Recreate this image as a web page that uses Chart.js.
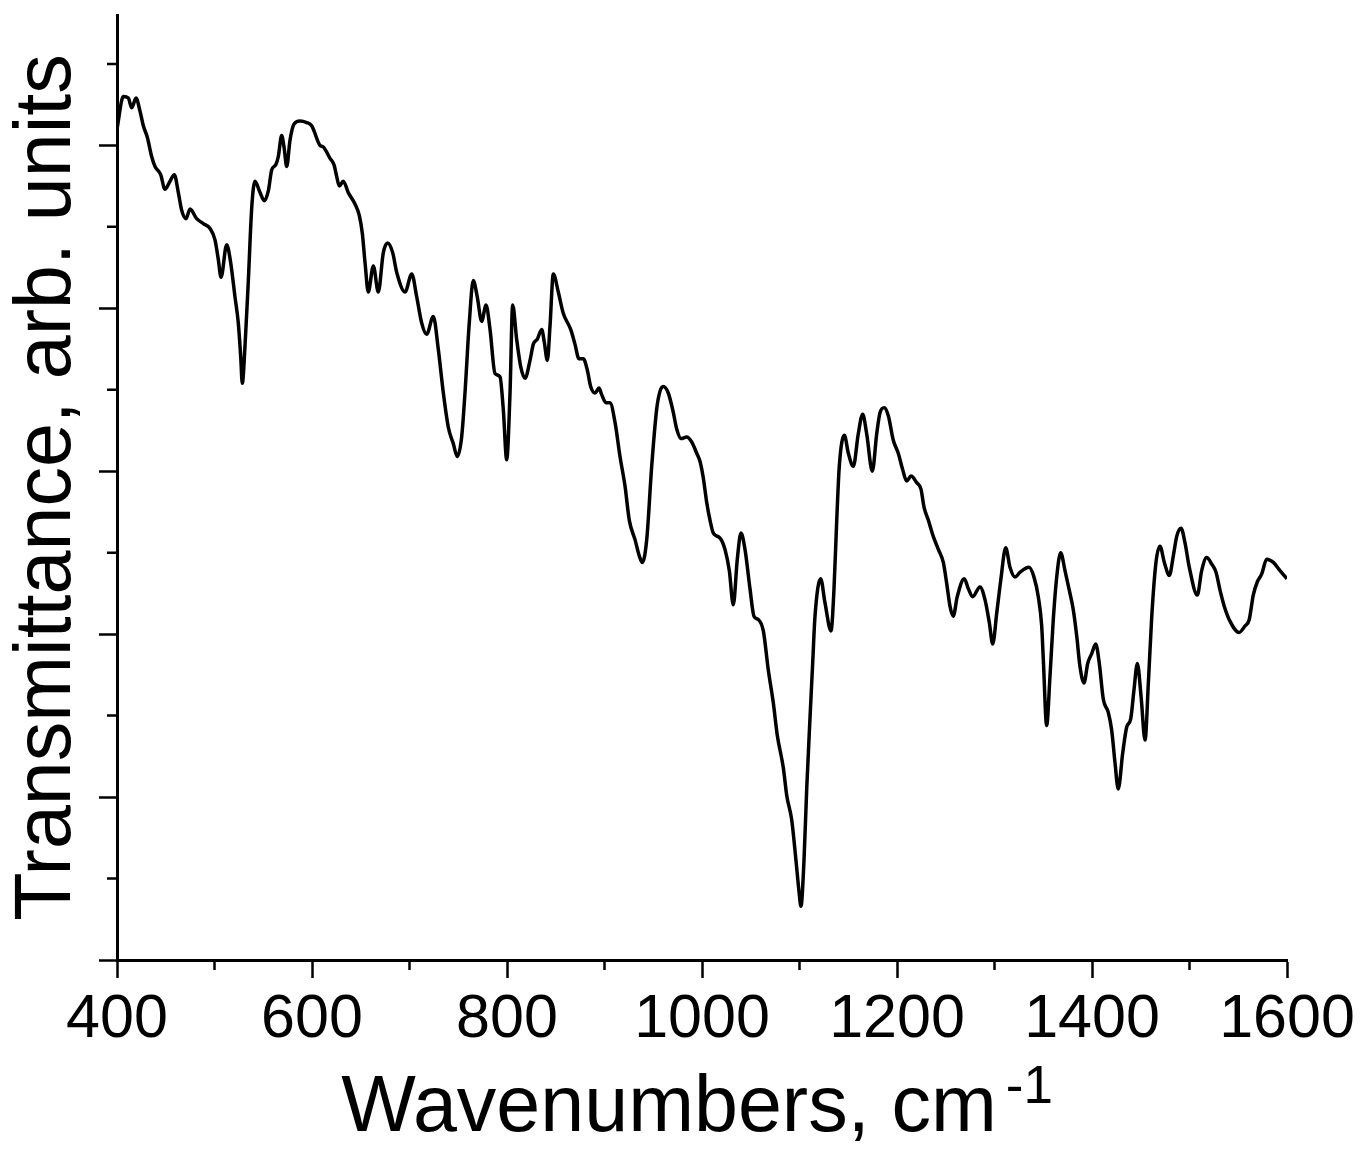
<!DOCTYPE html>
<html>
<head>
<meta charset="utf-8">
<script src="https://cdn.jsdelivr.net/npm/chart.js@4.4.1/dist/chart.umd.min.js"></script>
<style>
html,body{margin:0;padding:0;background:#fff;}
#wrap{width:1362px;height:1150px;}
</style>
</head>
<body>
<div id="wrap"><canvas id="c" width="1362" height="1150"></canvas></div>
<script>
const wavenumbers = [
400, 406.5, 411.6, 415.1, 419.5, 423.6, 427.0, 431.1, 435.6, 439.0, 444.8, 449.2, 454.4, 458.8, 462.9, 466.4, 470.8, 474.9, 481.7, 488.5,
495.4, 500.5, 503.9, 506.7, 512.5, 516.6, 521.0, 524.4, 526.9, 528.5, 531.3, 534.7, 538.2, 541.5, 546.7, 551.1, 555.2, 558.7, 562.8, 565.4,
568.9, 571.3, 574.1, 577.4, 581.5, 587.7, 594.6, 599.7, 608.2,
611.6, 618.5, 622.6, 625.3, 628.0, 632.1, 637.2, 644.1, 648.5, 651.6, 654.4, 657.7, 662.9, 668.0, 673.1, 677.6, 682.8, 686.9, 695.4, 702.3,
707.4, 712.5, 717.6, 724.4, 729.5, 734.7, 739.8, 744.9, 749.0, 753.5, 756.9, 761.3, 765.4, 769.5, 774.0, 778.5, 782.6, 787.7, 792.8, 796.2,
799.7, 803.1, 805.8, 809.9, 814.1, 818.5, 823.6, 827.0, 831.1, 835.6, 838.3, 841.4, 844.1, 847.5, 852.6, 857.7, 865.3, 869.7, 873.8, 878.3,
882.4, 885.8, 890.3, 894.4, 897.1, 901.5, 905.6, 910.8, 915.9, 921.0, 925.4, 931.3, 935.7, 938.8, 943.3, 948.4, 953.5, 956.9, 960.3, 965.4,
970.6, 974.0, 978.5, 984.3, 989.4, 994.6, 998.0,
1001.3, 1004.8, 1008.2, 1011.6, 1018.5, 1023.6, 1028.0, 1032.1, 1036.2, 1040.0, 1044.1, 1049.2, 1053.3, 1057.7, 1062.9, 1068.0, 1073.1, 1077.2, 1083.4, 1086.9,
1092.0, 1096.4, 1099.5, 1101.5, 1104.6, 1107.4, 1110.8, 1113.5, 1115.9, 1121.7, 1126.2, 1132.3, 1135.4, 1138.2, 1140.8, 1146.0, 1150.1, 1155.2, 1160.3, 1164.8,
1168.9, 1174.7, 1179.2, 1182.6, 1187.0, 1191.1, 1196.2, 1201.3, 1205.8, 1209.9, 1214.4, 1220.2, 1224.6, 1227.7, 1232.1, 1237.2, 1242.4, 1247.5, 1251.0, 1254.4,
1257.7, 1261.8, 1269.0, 1273.1, 1277.6, 1285.1, 1290.3, 1294.7, 1298.2, 1302.3, 1306.4, 1311.5, 1315.9, 1321.0, 1326.2, 1335.4, 1340.5, 1344.9, 1348.4, 1350.1,
1353.5, 1356.9, 1360.3, 1363.8, 1367.9, 1372.3, 1376.7, 1380.8, 1384.3, 1387.7, 1391.8, 1395.6, 1399.7, 1403.8, 1407.5, 1411.6, 1416.7, 1420.2, 1423.6, 1426.9,
1431.5, 1435.6, 1439.7, 1443.1, 1446.5, 1450.3, 1454.4, 1457.8, 1461.3, 1465.6, 1469.7, 1474.2, 1479.3, 1483.4, 1486.9, 1491.3, 1495.4, 1499.8, 1508.0, 1512.5,
1517.6, 1522.8, 1527.2, 1531.3, 1535.7, 1541.5, 1550.8, 1556.9, 1561.3, 1565.4, 1569.5, 1574.1, 1579.2, 1586.0, 1592.8, 1600
];
const transmittance = [
5.10, 5.30, 5.29, 5.23, 5.29, 5.21, 5.12, 5.05, 4.93, 4.87, 4.82, 4.73, 4.78, 4.82, 4.71, 4.60, 4.55, 4.61, 4.55, 4.52,
4.49, 4.42, 4.30, 4.19, 4.39, 4.28, 4.07, 3.91, 3.70, 3.54, 3.77, 4.17, 4.62, 4.78, 4.71, 4.66, 4.72, 4.85, 4.88, 4.93,
5.06, 4.99, 4.87, 5.03, 5.13, 5.15, 5.14, 5.12, 5.00,
4.99, 4.92, 4.88, 4.81, 4.75, 4.78, 4.71, 4.64, 4.57, 4.46, 4.28, 4.10, 4.26, 4.10, 4.34, 4.40, 4.34, 4.22, 4.10, 4.21,
4.07, 3.91, 3.84, 3.95, 3.75, 3.48, 3.27, 3.17, 3.09, 3.21, 3.48, 3.91, 4.17, 4.07, 3.92, 4.02, 3.87, 3.60, 3.58, 3.38,
3.07, 3.48, 4.02, 3.81, 3.64, 3.57, 3.68, 3.78, 3.81, 3.87, 3.79, 3.68, 3.89, 4.21, 4.10, 3.97, 3.87, 3.78, 3.69, 3.69,
3.62, 3.52, 3.48, 3.51, 3.47, 3.42, 3.42, 3.30, 3.09, 2.91, 2.70, 2.58, 2.48, 2.44, 2.58, 3.03, 3.38, 3.49, 3.52, 3.48,
3.36, 3.26, 3.20, 3.21, 3.18, 3.11, 3.06,
2.96, 2.81, 2.70, 2.62, 2.59, 2.52, 2.39, 2.18, 2.46, 2.62, 2.52, 2.28, 2.11, 2.09, 2.02, 1.78, 1.58, 1.38, 1.18, 1.01,
0.86, 0.61, 0.42, 0.33, 0.61, 1.05, 1.49, 1.82, 2.11, 2.34, 2.19, 2.02, 2.28, 2.70, 3.03, 3.22, 3.11, 3.03, 3.23, 3.35,
3.23, 3.00, 3.23, 3.36, 3.39, 3.34, 3.19, 3.11, 3.01, 2.94, 2.97, 2.93, 2.89, 2.78, 2.70, 2.60, 2.52, 2.44, 2.31, 2.17,
2.11, 2.23, 2.34, 2.28, 2.23, 2.29, 2.21, 2.07, 1.94, 2.13, 2.33, 2.53, 2.41, 2.35, 2.38, 2.41, 2.35, 2.23, 2.05, 1.84,
1.44, 1.74, 2.09, 2.35, 2.50, 2.39, 2.27, 2.15, 1.99, 1.80, 1.70, 1.82, 1.88, 1.94, 1.82, 1.60, 1.52, 1.41, 1.21, 1.05,
1.27, 1.43, 1.48, 1.66, 1.82, 1.62, 1.35, 1.70, 2.11, 2.44, 2.54, 2.44, 2.36, 2.48, 2.60, 2.65, 2.56, 2.41, 2.24, 2.39,
2.47, 2.43, 2.38, 2.27, 2.17, 2.08, 2.01, 2.05, 2.09, 2.24, 2.32, 2.37, 2.46, 2.44, 2.39, 2.34
];
const xMinorTicks = [500, 700, 900, 1100, 1300, 1500];
const yMinorTicks = [0.5, 1.5, 2.5, 3.5, 4.5, 5.5];
const xTitle = 'Wavenumbers, cm';
const xTitleSup = '-1';
const yTitle = 'Transmittance, arb. units';

const FONT = '"Liberation Sans", Arial, Helvetica, sans-serif';
const TITLE_SIZE = 79;
const points = wavenumbers.map((w, i) => ({x: w, y: transmittance[i]}));

const extras = {
  id: 'extras',
  afterDraw(chart) {
    const ctx = chart.ctx, xs = chart.scales.x, ys = chart.scales.y, a = chart.chartArea;
    ctx.save();
    ctx.strokeStyle = '#000';
    ctx.lineWidth = 2.5;
    ctx.beginPath();
    xMinorTicks.forEach(v => {
      const p = xs.getPixelForValue(v);
      ctx.moveTo(p, a.bottom); ctx.lineTo(p, a.bottom + 10);
    });
    yMinorTicks.forEach(v => {
      const p = ys.getPixelForValue(v);
      ctx.moveTo(a.left, p); ctx.lineTo(a.left - 10, p);
    });
    ctx.stroke();
    // superscript of the x title
    ctx.font = TITLE_SIZE + 'px ' + FONT;
    const full = ctx.measureText(xs.options.title.text).width;
    const base = ctx.measureText(xTitle).width;
    const startX = (xs.left + xs.right) / 2 - full / 2;
    const centerY = xs.bottom - 1 - TITLE_SIZE / 2;
    const baseline = centerY + 0.3465 * TITLE_SIZE;
    ctx.font = '53px ' + FONT;
    ctx.fillStyle = '#000';
    ctx.textAlign = 'left';
    ctx.textBaseline = 'alphabetic';
    ctx.fillText(xTitleSup, startX + base + 9, baseline - 34);
    ctx.restore();
  }
};

new Chart(document.getElementById('c'), {
  type: 'line',
  data: {
    datasets: [{
      data: points,
      borderColor: '#000',
      borderWidth: 3.5,
      pointRadius: 0,
      fill: false,
      cubicInterpolationMode: 'monotone'
    }]
  },
  options: {
    responsive: false,
    animation: false,
    devicePixelRatio: 1,
    layout: {padding: {left: 0, right: 75, top: 15, bottom: 0}},
    plugins: {legend: {display: false}, tooltip: {enabled: false}},
    scales: {
      x: {
        type: 'linear',
        min: 400, max: 1600,
        afterFit: s => { s.paddingRight = 0; },
        ticks: {stepSize: 200, color: '#000', padding: 11.5, maxRotation: 0,
                callback: v => String(v),
                font: {family: FONT, size: 61, lineHeight: 1}},
        grid: {display: true, drawOnChartArea: false, drawTicks: true, tickLength: 18,
               tickWidth: 2.5, tickColor: '#000'},
        border: {display: true, color: '#000', width: 3},
        title: {display: true, text: xTitle + '\u00a0\u00a0\u00a0', color: '#000',
                font: {family: FONT, size: TITLE_SIZE, lineHeight: 1},
                padding: {top: 8, bottom: 1}}
      },
      y: {
        type: 'linear',
        min: 0, max: 5.8,
        ticks: {stepSize: 1, display: false, includeBounds: false},
        grid: {display: true, drawOnChartArea: false, drawTicks: true, tickLength: 18,
               tickWidth: 2.5, tickColor: '#000'},
        border: {display: true, color: '#000', width: 3},
        title: {display: true, text: yTitle, color: '#000',
                font: {family: FONT, size: TITLE_SIZE, lineHeight: 1},
                padding: {top: 8.5, bottom: 11.5}}
      }
    }
  },
  plugins: [extras]
});
</script>
</body>
</html>
